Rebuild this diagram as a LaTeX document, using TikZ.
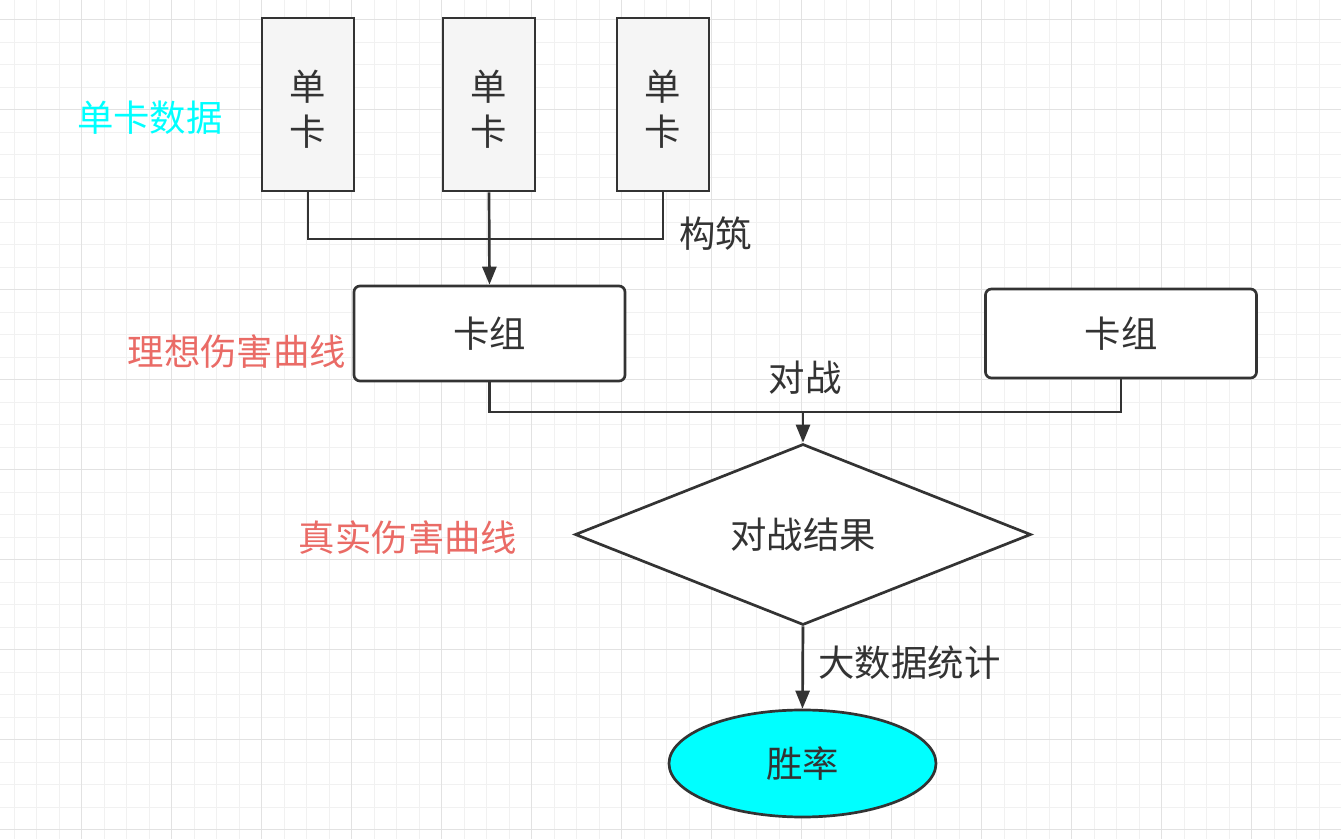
\documentclass[tikz,border=0pt]{standalone}
\usepackage{fontspec}
\setmainfont{Noto Sans CJK SC}
\usetikzlibrary{shapes.geometric,arrows.meta}
\definecolor{ink}{HTML}{333333}
\definecolor{gminor}{HTML}{F1F1F1}
\definecolor{gmajor}{HTML}{E2E2E2}
\definecolor{lblred}{HTML}{EA6B66}
\definecolor{cardfill}{HTML}{F5F5F5}
\definecolor{aqua}{HTML}{00FFFF}
\tikzset{
  txt/.style={font=\fontsize{18.2}{22.5}\selectfont, text=ink},
  cardbox/.style={draw=ink, line width=1.35pt, fill=cardfill, minimum width=46pt, minimum height=86.5pt, inner sep=0pt, align=center, txt},
  deckbox/.style={draw=ink, line width=1.35pt, fill=white, rounded corners=3pt, minimum width=135.5pt, inner sep=0pt, txt},
  resultdia/.style={draw=ink, line width=1.35pt, fill=white, diamond, minimum width=228pt, minimum height=90.5pt, inner sep=0pt, txt},
  rateell/.style={draw=ink, line width=1.35pt, fill=aqua, ellipse, minimum width=133.5pt, minimum height=53.5pt, inner sep=0pt, txt},
  conn/.style={draw=ink, line width=1.35pt},
  arr/.style={conn, -{Triangle[width=7pt,length=9pt]}},
  lbl/.style={txt, inner sep=0pt},
}
\begin{document}
\begin{tikzpicture}[x=0.5pt,y=-0.5pt]
\useasboundingbox (0,0) rectangle (1341,839);
\fill[white] (0,0) rectangle (1341,839);
% grid
\foreach \i in {0,...,59} {
  \draw[gminor, line width=0.5pt] ({14.2+22.5*\i},0) -- ({14.2+22.5*\i},839);
}
\foreach \i in {-1,...,37} {
  \draw[gminor, line width=0.5pt] (0,{20+22.5*\i}) -- (1341,{20+22.5*\i});
}
\foreach \i in {0,...,14} {
  \draw[gmajor, line width=0.5pt] ({81.7+90*\i},0) -- ({81.7+90*\i},839);
}
\foreach \i in {0,...,9} {
  \draw[gmajor, line width=0.5pt] (0,{20+90*\i}) -- (1341,{20+90*\i});
}
% nodes
\node[cardbox] (c1) at (308,104.5) {\rule{0pt}{20pt}单\\卡};
\node[cardbox] (c2) at (489,104.5) {\rule{0pt}{20pt}单\\卡};
\node[cardbox] (c3) at (663,104.5) {\rule{0pt}{20pt}单\\卡};
\node[deckbox, minimum height=47.5pt] (k1) at (489.5,333.5) {卡组};
\node[deckbox, minimum height=44.5pt] (k2) at (1121,333.5) {卡组};
\node[resultdia] (d) at (803,534.5) {对战结果};
\node[rateell] (r) at (802.5,763.5) {胜率};
% labels
\node[lbl, text=aqua] (l1) at (150,118) {单卡数据};
\node[lbl, text=lblred] (l2) at (237,352) {理想伤害曲线};
\node[lbl, text=lblred] (l3) at (408,538) {真实伤害曲线};
% connectors
\coordinate (j1) at (489,239);
\coordinate (j2) at (803,412);
\draw[conn] (c1.south) |- (j1) -| (c3.south);
\draw[arr] (c2.south) -- (k1.north);
\node[lbl, anchor=west] (t1) at (679,234) {构筑};
\draw[conn] (k1.south) |- (j2) -| (k2.south);
\draw[arr] (j2) -- (d.north);
\node[lbl] (t2) at (805,378) {对战};
\draw[arr] (d.south) -- (r.north);
\node[lbl, anchor=west] (t3) at (818,663) {大数据统计};
\end{tikzpicture}
\end{document}
